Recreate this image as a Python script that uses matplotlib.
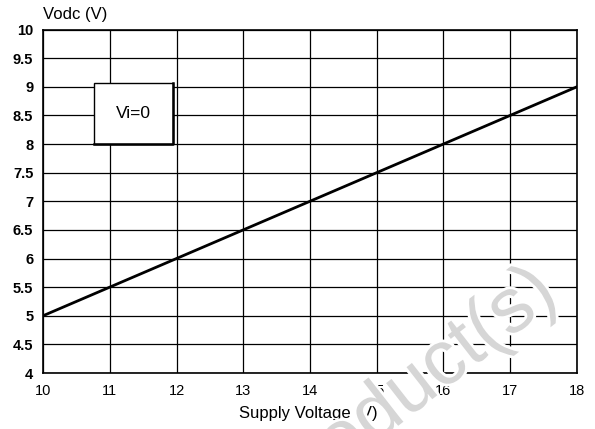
import matplotlib
matplotlib.use("Agg")
import matplotlib.pyplot as plt
import matplotlib.patheffects as pe
from matplotlib.patches import Rectangle

plt.rcParams['font.family'] = ['Liberation Sans', 'DejaVu Sans']

supply_voltage = [10, 18]
vodc = [5, 9]
x_ticks = [10, 11, 12, 13, 14, 15, 16, 17, 18]
y_ticks = [4, 4.5, 5, 5.5, 6, 6.5, 7, 7.5, 8, 8.5, 9, 9.5, 10]
y_tick_labels = ['4', '4.5', '5', '5.5', '6', '6.5', '7', '7.5', '8', '8.5', '9', '9.5', '10']

fig = plt.figure(figsize=(5.95, 4.29), dpi=100)
ax = fig.add_axes([0.0723, 0.1305, 0.8974, 0.8007])
ax.set_xlim(10, 18)
ax.set_ylim(4, 10)
ax.set_xticks(x_ticks)
ax.set_yticks(y_ticks)
ax.set_yticklabels(y_tick_labels, fontweight='bold', fontsize=10.5)
ax.set_xticklabels([str(t) for t in x_ticks], fontsize=10.5)
ax.tick_params(axis='x', length=0, pad=8)
ax.tick_params(axis='y', length=0, pad=7)
ax.grid(True, color='black', linewidth=0.9)
ax.set_axisbelow(True)
for s in ax.spines.values():
    s.set_linewidth(1.2)

ax.plot(supply_voltage, vodc, color='black', linewidth=2.0, zorder=3)

# annotation box
ax.add_patch(Rectangle((10.77, 8.0), 1.17, 1.06, facecolor='white', edgecolor='black',
                       linewidth=1.0, zorder=4))
ax.plot([10.77, 11.94, 11.94], [8.0, 8.0, 9.06], color='black', linewidth=1.8, zorder=5)
ax.text(11.36, 8.53, 'Vi=0', fontsize=12.5, ha='center', va='center', zorder=6)

fig.text(0.072, 0.967, 'Vodc (V)', fontsize=12, ha='left', va='center')
fig.text(0.519, 0.035, 'Supply Voltage (V)', fontsize=12, ha='center', va='center')

# watermark
fig.text(0.942, 0.303, 'Obsolete Product(s)', fontsize=56, color='#d6d6d6',
         rotation=38, rotation_mode='anchor', ha='right', va='baseline', zorder=10,
         path_effects=[pe.withStroke(linewidth=4, foreground='white')])

fig.savefig('out.png', dpi=100)
